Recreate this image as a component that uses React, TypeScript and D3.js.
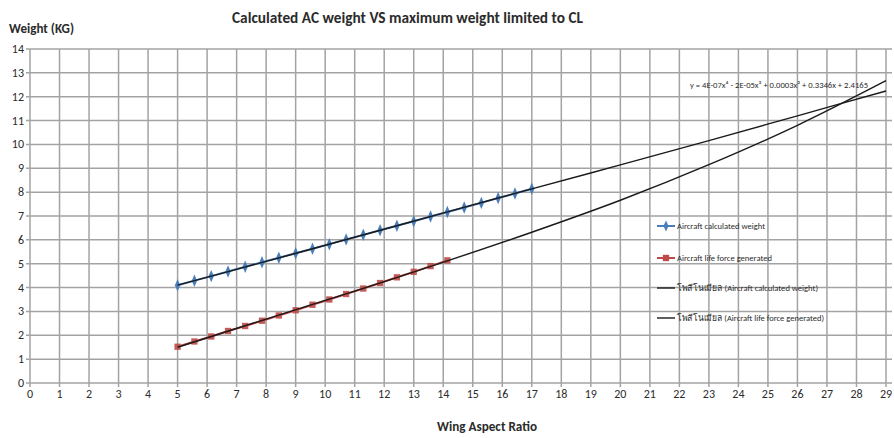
import React from "react";
import * as d3 from "d3";

// wing aspect ratio samples (both series share the same x steps)
const aspectRatio = [5, 5.57, 6.14, 6.71, 7.29, 7.86, 8.43, 9, 9.57, 10.14, 10.71, 11.29, 11.86, 12.43, 13, 13.57, 14.14, 14.71, 15.29, 15.86, 16.43, 17];
const calcWeight = [4.1, 4.29, 4.48, 4.67, 4.87, 5.06, 5.25, 5.44, 5.63, 5.82, 6.02, 6.21, 6.4, 6.59, 6.78, 6.98, 7.17, 7.36, 7.55, 7.75, 7.94, 8.14];
const liftForce = [1.52, 1.74, 1.95, 2.18, 2.39, 2.61, 2.83, 3.05, 3.28, 3.5, 3.73, 3.96, 4.19, 4.43, 4.66, 4.9, 5.14];

// polynomial trend lines
const trendX = [5, 8, 11, 14.14, 17, 20, 23, 26, 29];
const weightTrend = [4.1, 5.1, 6.11, 7.17, 8.14, 9.14, 10.16, 11.2, 12.24];
const liftTrend = [1.5, 2.68, 3.85, 5.12, 6.32, 7.66, 9.15, 10.8, 12.67];

const xTicks = d3.range(0, 30);
const yTicks = d3.range(0, 15);

const legendItems = [
  { label: "Aircraft calculated weight", kind: "blue", w: 88 },
  { label: "Aircraft life force generated", kind: "red", w: 95 },
  { label: "โพลีโนเมียล (Aircraft calculated weight)", kind: "line", w: 141 },
  { label: "โพลีโนเมียล (Aircraft life force generated)", kind: "line", w: 147 },
];

const BLUE = "#4a7ebb";
const RED = "#be4b48";
const GRID = "#a3a3a3";
const TXT = "#2b2b2b";
const FONT = "Carlito, 'Liberation Sans Narrow', 'DejaVu Sans Condensed', Arial, sans-serif";

export default function App() {
  const W = 894;
  const H = 438;
  const x = d3.scaleLinear().domain([0, 29]).range([30, 886]);
  const y = d3.scaleLinear().domain([0, 14]).range([383, 49]);

  const trendLine = d3
    .line<number>()
    .x((d, i) => x(trendX[i]))
    .y((d) => y(d))
    .curve(d3.curveCatmullRom);

  const seriesLine = (vals: number[]) =>
    d3
      .line<number>()
      .x((d, i) => x(aspectRatio[i]))
      .y((d) => y(d))(vals) || "";

  const diamond = d3.symbol(d3.symbolDiamond, 34)() || "";
  const square = d3.symbol(d3.symbolSquare, 40)() || "";

  return (
    <svg
      width={W}
      height={H}
      style={{ position: "absolute", left: 0, top: 0, background: "#fff" }}
      fontFamily={FONT}
    >
      {/* grid */}
      {xTicks.map((t) => (
        <line key={"gx" + t} x1={x(t)} x2={x(t)} y1={y(14)} y2={y(0) + 4} stroke={GRID} strokeWidth={1.5} />
      ))}
      {yTicks.map((t) => (
        <line key={"gy" + t} x1={x(0) - 4} x2={892} y1={y(t)} y2={y(t)} stroke={GRID} strokeWidth={1.5} />
      ))}

      {/* tick labels */}
      {yTicks.map((t) => (
        <text key={"ty" + t} x={24} y={y(t) + 4} textAnchor="end" fontSize={12} fill={TXT}>
          {t}
        </text>
      ))}
      {xTicks.map((t) => (
        <text key={"tx" + t} x={x(t)} y={398} textAnchor="middle" fontSize={12} fill={TXT}>
          {t}
        </text>
      ))}

      {/* series lines */}
      <path d={seriesLine(calcWeight)} fill="none" stroke={BLUE} strokeWidth={2} />
      <path d={seriesLine(liftForce)} fill="none" stroke={RED} strokeWidth={2} />

      {/* markers */}
      {calcWeight.map((v, i) => (
        <path key={"b" + i} d={diamond} transform={`translate(${x(aspectRatio[i])},${y(v)}) scale(0.85,1.15)`} fill={BLUE} />
      ))}
      {liftForce.map((v, i) => (
        <path key={"r" + i} d={square} transform={`translate(${x(aspectRatio[i])},${y(v)})`} fill={RED} opacity={0.9} />
      ))}

      {/* trend lines */}
      <path d={trendLine(weightTrend) || ""} fill="none" stroke="#1a1a1a" strokeWidth={1.4} />
      <path d={trendLine(liftTrend) || ""} fill="none" stroke="#1a1a1a" strokeWidth={1.4} />

      {/* equation */}
      <text x={690} y={88} fontSize={8.5} fill={TXT} textLength={178} lengthAdjust="spacingAndGlyphs">
        y = 4E-07x⁴ - 2E-05x³ + 0.0003x² + 0.3346x + 2.4165
      </text>

      {/* legend */}
      {legendItems.map((it, i) => {
        const cy = [226, 258, 288, 318][i];
        return (
          <g key={"lg" + i}>
            <line
              x1={657}
              x2={675}
              y1={cy}
              y2={cy}
              stroke={it.kind === "blue" ? BLUE : it.kind === "red" ? RED : "#1a1a1a"}
              strokeWidth={it.kind === "line" ? 1.4 : 2}
            />
            {it.kind === "blue" && <path d={diamond} transform={`translate(666,${cy}) scale(0.8,1)`} fill={BLUE} />}
            {it.kind === "red" && <path d={square} transform={`translate(666,${cy})`} fill={RED} />}
            <text x={677} y={cy + 3} fontSize={9} fill={TXT} textLength={it.w} lengthAdjust="spacingAndGlyphs">
              {it.label}
            </text>
          </g>
        );
      })}

      {/* titles */}
      <text x={232} y={23} fontSize={15} fontWeight="bold" fill={TXT} textLength={351} lengthAdjust="spacingAndGlyphs">
        Calculated AC weight VS maximum  weight limited to CL
      </text>
      <text x={9} y={33} fontSize={13} fontWeight="bold" fill={TXT} textLength={65} lengthAdjust="spacingAndGlyphs">
        Weight (KG)
      </text>
      <text x={437} y={431} fontSize={14} fontWeight="bold" fill={TXT} textLength={100} lengthAdjust="spacingAndGlyphs">
        Wing Aspect Ratio
      </text>
    </svg>
  );
}
